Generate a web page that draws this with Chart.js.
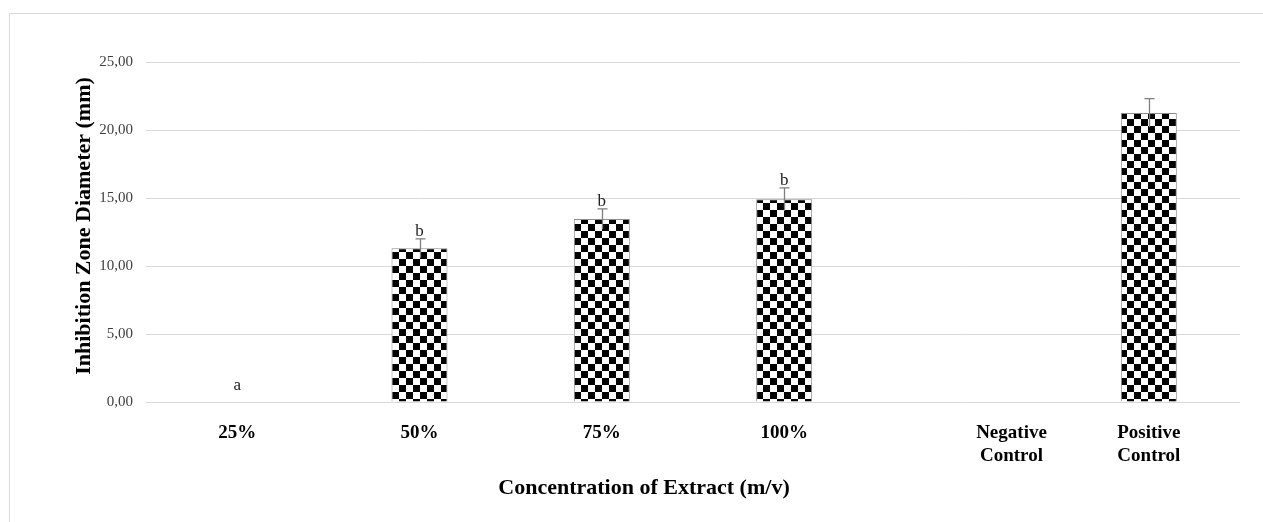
<!DOCTYPE html>
<html>
<head>
<meta charset="utf-8">
<script src="https://cdn.jsdelivr.net/npm/chart.js@4/dist/chart.umd.min.js"></script>
<style>
  html, body { margin: 0; padding: 0; background: #fff; }
  #wrap { position: relative; width: 1263px; height: 522px; }
  #frame { position: absolute; left: 9px; top: 13px; width: 1270px; height: 530px; border: 1px solid #d9d9d9; box-sizing: border-box; }
  canvas { position: absolute; left: 0; top: 0; }
</style>
</head>
<body>
<div id="wrap">
  <div id="frame"></div>
  <canvas id="chart" width="1263" height="522"></canvas>
</div>
<script>
// Chart data
const categories = [['25%'], ['50%'], ['75%'], ['100%'], ['Negative', 'Control'], ['Positive', 'Control']];
const diameters = [0, 11.3, 13.45, 14.9, 0, 21.25];
const errors = [0, 0.7, 0.75, 0.85, 0, 1.05];
const letters = ['a', 'b', 'b', 'b', '', ''];
const yTicks = [0, 5, 10, 15, 20, 25];

const SERIF = '"Liberation Serif", "Times New Roman", serif';

// checkerboard fill like the Excel pattern
function checkerPattern(ctx) {
    const c = document.createElement('canvas');
    c.width = 14; c.height = 14;
    const p = c.getContext('2d');
    p.fillStyle = '#fff';
    p.fillRect(0, 0, 14, 14);
    p.fillStyle = '#000';
    p.fillRect(0, 0, 7, 7);
    p.fillRect(7, 7, 7, 7);
    return ctx.createPattern(c, 'repeat');
}

// error bars, letters, x labels and axis titles
const extras = {
    id: 'extras',
    afterDatasetsDraw(chart) {
        const ctx = chart.ctx;
        const x = chart.scales.x, y = chart.scales.y;
        ctx.save();

        // error bars
        ctx.strokeStyle = '#7f7f7f';
        ctx.lineWidth = 1.3;
        diameters.forEach((v, i) => {
            if (!errors[i]) return;
            const px = Math.round(x.getPixelForValue(i)) + 0.5;
            const top = y.getPixelForValue(v + errors[i]);
            const bot = y.getPixelForValue(v - errors[i]);
            ctx.beginPath();
            ctx.moveTo(px, bot);
            ctx.lineTo(px, top);
            ctx.moveTo(px - 5, top);
            ctx.lineTo(px + 5, top);
            ctx.stroke();
        });

        // significance letters
        ctx.fillStyle = '#222';
        ctx.font = '17px ' + SERIF;
        ctx.textAlign = 'center';
        ctx.textBaseline = 'alphabetic';
        letters.forEach((l, i) => {
            if (!l) return;
            const px = x.getPixelForValue(i);
            const base = Math.min(y.getPixelForValue(diameters[i] + errors[i]) - 3, y.getPixelForValue(0) - 12);
            ctx.fillText(l, px, base);
        });

        // category labels
        ctx.fillStyle = '#000';
        ctx.font = 'bold 19px ' + SERIF;
        ctx.textBaseline = 'middle';
        categories.forEach((lines, i) => {
            let px = x.getPixelForValue(i);
            if (lines[0] === 'Negative') px += 45;
            lines.forEach((t, k) => ctx.fillText(t, px, 433 + k * 23));
        });

        // axis titles
        ctx.font = 'bold 22px ' + SERIF;
        ctx.fillText('Concentration of Extract (m/v)', 644, 488);
        ctx.translate(84, 226);
        ctx.rotate(-Math.PI / 2);
        ctx.fillText('Inhibition Zone Diameter (mm)', 0, 0);
        ctx.restore();
    }
};

const ctx = document.getElementById('chart').getContext('2d');
new Chart(ctx, {
    type: 'bar',
    data: {
        labels: categories.map(c => c.join(' ')),
        datasets: [{
            data: diameters,
            backgroundColor: checkerPattern(ctx),
            borderColor: '#8c8c8c',
            borderWidth: 1,
            categoryPercentage: 1,
            barPercentage: 0.307
        }]
    },
    options: {
        responsive: false,
        animation: false,
        layout: { padding: { top: 62, right: 23, left: 0, bottom: 0 } },
        plugins: { legend: { display: false }, tooltip: { enabled: false } },
        scales: {
            x: {
                grid: { display: false },
                border: { display: false },
                ticks: { display: false },
                afterFit(scale) { scale.height = 120; }
            },
            y: {
                min: 0,
                max: 25,
                afterFit(scale) { scale.width = 146; },
                afterBuildTicks(scale) { scale.ticks = yTicks.map(v => ({ value: v })); },
                grid: { color: '#d9d9d9', lineWidth: 1, drawTicks: false },
                border: { display: false },
                ticks: {
                    padding: 13,
                    color: '#404040',
                    font: { family: SERIF, size: 15 },
                    callback: v => v.toFixed(2).replace('.', ',')
                }
            }
        }
    },
    plugins: [extras]
});
</script>
</body>
</html>
